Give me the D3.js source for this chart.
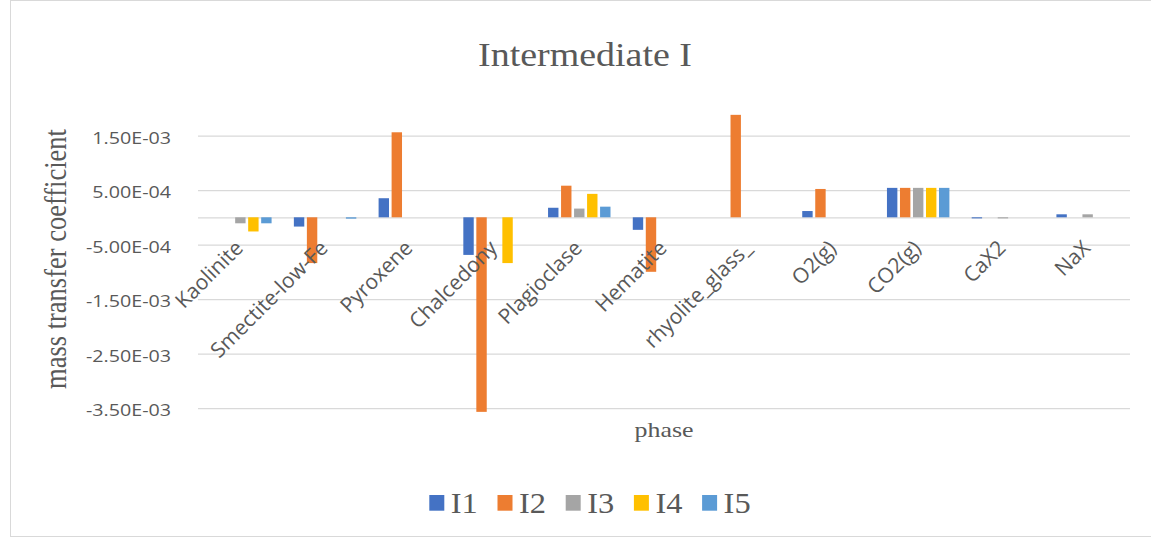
<!DOCTYPE html>
<html>
<head>
<meta charset="utf-8">
<script src="https://cdn.jsdelivr.net/npm/d3@7/dist/d3.min.js"></script>
<style>
  html, body { margin: 0; padding: 0; background: #fff; }
  svg { display: block; }
</style>
</head>
<body>
<svg id="chart" width="1151" height="538"></svg>
<script>
// ---- data ----
const categories = ["Kaolinite", "Smectite-low-Fe", "Pyroxene", "Chalcedony", "Plagioclase", "Hematite", "rhyolite_glass_", "O2(g)", "CO2(g)", "CaX2", "NaX"];
const seriesNames = ["I1", "I2", "I3", "I4", "I5"];
const I1 = [0, -1.7e-4, 3.5e-4, -6.9e-4, 1.75e-4, -2.3e-4, 0, 1.15e-4, 5.4e-4, -2e-5, 5.5e-5];
const I2 = [0, -8.4e-4, 1.56e-3, -3.57e-3, 5.8e-4, -1.0e-3, 1.88e-3, 5.2e-4, 5.4e-4, 0, 0];
const I3 = [-1.1e-4, 0, 0, 0, 1.6e-4, 0, 0, 0, 5.4e-4, -2e-5, 5.5e-5];
const I4 = [-2.6e-4, 0, 0, -8.4e-4, 4.3e-4, 0, 0, 0, 5.4e-4, 0, 0];
const I5 = [-1.1e-4, -2.5e-5, 0, 0, 1.95e-4, 0, 0, 0, 5.4e-4, 0, 0];
const seriesColors = ["#4472C4", "#ED7D31", "#A5A5A5", "#FFC000", "#5B9BD5"];
const yTickValues = [1.5e-3, 5e-4, -5e-4, -1.5e-3, -2.5e-3, -3.5e-3];
const yTickLabels = ["1.50E-03", "5.00E-04", "-5.00E-04", "-1.50E-03", "-2.50E-03", "-3.50E-03"];
const titleText = "Intermediate I";
const xTitle = "phase";
const yTitle = "mass transfer coefficient";

const allSeries = [I1, I2, I3, I4, I5];

// ---- layout ----
const svg = d3.select("#chart");
const plotL = 198, plotR = 1130;
const textGrey = "#595959";
const gridGrey = "#D9D9D9";
const serif = "'Times New Roman', 'Liberation Serif', Times, serif";
const sans = "'Open Sans', sans-serif";

// chart border
svg.append("rect")
  .attr("x", 10.5).attr("y", 0.5)
  .attr("width", 1150).attr("height", 536)
  .attr("fill", "none").attr("stroke", gridGrey).attr("stroke-width", 1);

const y = d3.scaleLinear().domain([-3.5e-3, 2.5e-3]).range([408.05, 81.05]);
const x0 = d3.scaleBand().domain(categories).range([plotL, plotR]).paddingInner(0.263).paddingOuter(0.1315);
const x1 = d3.scaleBand().domain(seriesNames).range([0, x0.bandwidth()]).paddingInner(0.2).paddingOuter(0);

// gridlines
const grid = svg.append("g").attr("transform", `translate(${plotL},0)`)
  .call(d3.axisLeft(y).tickValues(yTickValues.concat([0])).tickSize(-(plotR - plotL)).tickFormat(""));
grid.select(".domain").remove();
grid.selectAll(".tick line").attr("stroke", gridGrey).attr("stroke-width", 1.3);

// y tick labels
svg.append("g").selectAll("text")
  .data(yTickValues)
  .join("text")
  .attr("transform", (d) => `translate(171, ${y(d) + 8}) scale(1.2,1)`)
  .attr("text-anchor", "end")
  .attr("font-family", sans)
  .attr("font-size", 16.4)
  .attr("fill", textGrey)
  .text((d, i) => yTickLabels[i]);

// bars
const barsG = svg.append("g");
allSeries.forEach((vals, s) => {
  barsG.append("g")
    .attr("fill", seriesColors[s])
    .selectAll("rect")
    .data(vals.map((v, i) => ({ cat: categories[i], v })))
    .join("rect")
    .filter((d) => d.v !== 0)
    .attr("x", (d) => x0(d.cat) + x1(seriesNames[s]))
    .attr("y", (d) => Math.min(y(d.v), y(0)))
    .attr("width", x1.bandwidth())
    .attr("height", (d) => Math.abs(y(d.v) - y(0)));
});

// category labels
svg.append("g").selectAll("text")
  .data(categories)
  .join("text")
  .attr("transform", (d) => `translate(${x0(d) + x0.bandwidth() / 2 + 4}, ${y(0) + 32}) rotate(-45)`)
  .attr("text-anchor", "end")
  .attr("font-family", sans)
  .attr("font-size", 21)
  .attr("fill", textGrey)
  .text((d) => d);

// title
svg.append("text")
  .attr("transform", "translate(585, 66) scale(1.1,1)")
  .attr("text-anchor", "middle")
  .attr("font-family", serif)
  .attr("font-size", 34.5)
  .attr("fill", textGrey)
  .text(titleText);

// x axis title
svg.append("text")
  .attr("transform", `translate(${(plotL + plotR) / 2}, 437) scale(1.2,1)`)
  .attr("text-anchor", "middle")
  .attr("font-family", serif)
  .attr("font-size", 21.6)
  .attr("fill", textGrey)
  .text(xTitle);

// y axis title
svg.append("text")
  .attr("transform", "translate(66, 259) scale(1.2,1) rotate(-90)")
  .attr("text-anchor", "middle")
  .attr("font-family", serif)
  .attr("font-size", 26.5)
  .attr("fill", textGrey)
  .text(yTitle);

// legend
const legend = svg.append("g").attr("transform", "translate(429.3, 495)");
const legItems = legend.selectAll("g")
  .data(seriesNames)
  .join("g")
  .attr("transform", (d, i) => `translate(${i * 68.2}, 0)`);
legItems.append("rect")
  .attr("width", 15).attr("height", 15.7)
  .attr("fill", (d, i) => seriesColors[i]);
legItems.append("text")
  .attr("transform", "translate(21.5, 18.3) scale(1.12,1)")
  .attr("font-family", serif)
  .attr("font-size", 29)
  .attr("fill", textGrey)
  .text((d) => d);
</script>
</body>
</html>
